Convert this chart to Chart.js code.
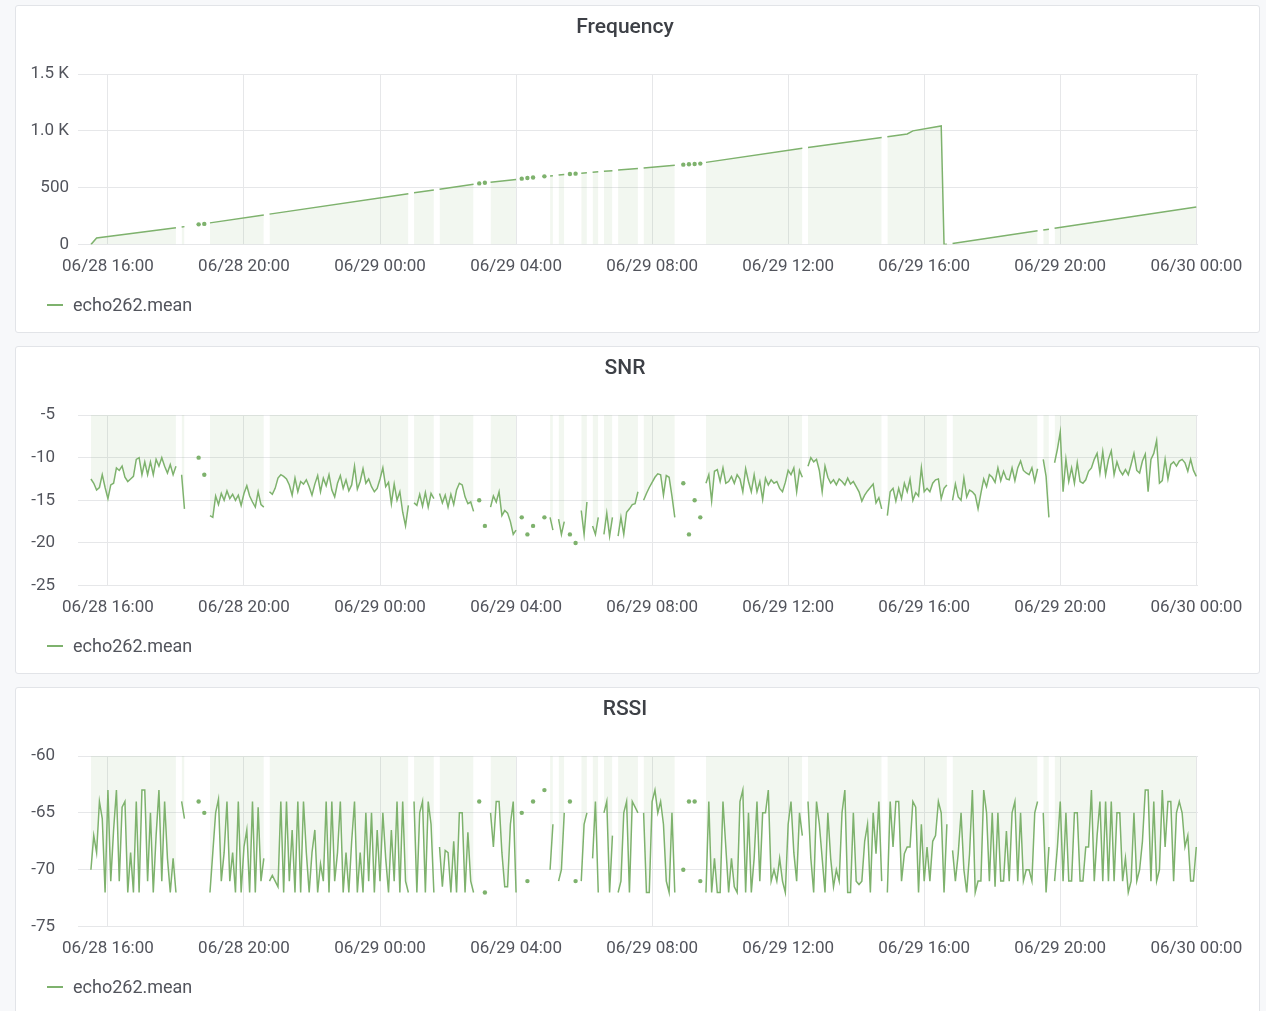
<!DOCTYPE html>
<html>
<head>
<meta charset="utf-8">
<title>echo262</title>
<script src="https://cdn.jsdelivr.net/npm/chart.js@4.4.1/dist/chart.umd.min.js"></script>
<style>
    html, body { margin: 0; padding: 0; width: 1266px; height: 1011px; overflow: hidden; background: #f7f8fa; }
    .panel {
        position: absolute; left: 15px; width: 1245px; height: 328px;
        box-sizing: border-box; background: #fff;
        border: 1px solid #e2e4e8; border-radius: 3px;
    }
    .panel .wrap { position: absolute; left: 0; top: 0; right: 0; bottom: 0; }
    .panel h2 {
        position: absolute; left: 0; top: 8px; width: 1218px; margin: 0;
        text-align: center; font: 500 21px/24px Roboto, sans-serif; color: #3d4046;
        z-index: 2; pointer-events: none;
    }
    .legend {
        position: absolute; left: 31px; top: 288px; height: 22px;
        font: 18px/22px Roboto, sans-serif; color: #52545c; z-index: 2;
    }
    .legend i {
        display: inline-block; width: 16px; height: 2px; background: #7eb26d;
        vertical-align: middle; margin: -2px 10px 0 0;
    }
</style>
</head>
<body>
<div class="panel" style="top:5px"><h2>Frequency</h2><div class="wrap"><canvas id="freqChart"></canvas></div><div class="legend"><i></i><span></span></div></div>
<div class="panel" style="top:346px"><h2>SNR</h2><div class="wrap"><canvas id="snrChart"></canvas></div><div class="legend"><i></i><span></span></div></div>
<div class="panel" style="top:687px"><h2>RSSI</h2><div class="wrap"><canvas id="rssiChart"></canvas></div><div class="legend"><i></i><span></span></div></div>
<script>
// hours counted from 06/28 16:00
const X_TICK_HOURS = [0, 4, 8, 12, 16, 20, 24, 28, 32];
const X_TICK_LABELS = ['06/28 16:00', '06/28 20:00', '06/29 00:00', '06/29 04:00', '06/29 08:00',
    '06/29 12:00', '06/29 16:00', '06/29 20:00', '06/30 00:00'];
const X_MIN = -0.88;
const X_MAX = 32.05;

const SERIES_NAME = 'echo262.mean';

const FREQ_TICKS = [0, 500, 1000, 1500];
const SNR_TICKS = [-25, -20, -15, -10, -5];
const RSSI_TICKS = [-75, -70, -65, -60];

// frequency counter: breakpoints of the ramp, null = no data
const FREQ_HOURS = [
    -0.5, -0.333, 2.0, 2.083, 2.167, 2.25, 2.333, 2.667, 2.75, 2.833, 2.917,
    3.0, 4.583, 4.667, 4.75, 8.833, 8.917, 9.0, 9.583, 9.667, 9.75, 10.75,
    10.833, 10.917, 11.0, 11.083, 11.167, 11.25, 12.0, 12.083, 12.167, 12.25, 12.333,
    12.417, 12.5, 12.583, 12.833, 12.917, 13.0, 13.083, 13.167, 13.25, 13.417, 13.5,
    13.583, 13.667, 13.75, 13.833, 13.917, 14.083, 14.167, 14.25, 14.417, 14.5, 14.583,
    14.833, 14.917, 15.0, 15.583, 15.667, 15.75, 16.667, 16.75, 16.917, 17.0, 17.083,
    17.167, 17.25, 17.333, 17.417, 17.5, 17.583, 20.417, 20.5, 20.583, 22.75, 22.833,
    22.917, 23.5, 23.667, 24.5, 24.583, 24.667, 24.75, 24.833, 27.333, 27.417, 27.5,
    27.667, 27.75, 27.833, 32.0
];
const FREQ_VALUES = [
    0, 58, 148, null, 155, 158, null, 178, null, 182, null,
    191, 260, null, 268, 447, null, 455, 480, null, 487, 531,
    null, 538, null, 544, null, 549, 572, null, 580, null, 585,
    null, 590, null, 600, null, 604, 606, null, 611, 616, null,
    621, null, 624, null, 628, 632, null, 636, 640, null, 644,
    650, null, 655, 669, null, 673, 697, null, 703, null, 706,
    null, 709, null, 712, null, 723, 847, null, 853, 942, null,
    948, 973, 1000, 1043, 0, 2, null, 10, 121, null, 129,
    136, null, 144, 330
];

// SNR and RSSI sampled every 5 minutes from 06/28 15:30
const SAMPLE_START_HOUR = -0.5;
const SAMPLE_STEP_HOURS = 5 / 60;

const SNR_VALUES = [
    -12.5, -13, -13.8, -13.5, -12, -13.5, -14.8, -13.2, -13, -11.2,
    -11.5, -11, -12.3, -12.8, -12.5, -12.2, -10.2, -10, -12, -10.5,
    -12, -10.5, -12, -10.2, -11, -10, -11, -11.8, -10.8, -12,
    -11, null, -12, -16, null, null, null, null, -10, null,
    -12, null, -16.8, -17, -14.5, -15.5, -14.2, -15, -13.9, -14.8,
    -14.3, -15, -14.4, -15.6, -14.2, -13.3, -14.5, -15.2, -15.8, -14,
    -15.5, -15.8, null, -14, -14.3, -13.6, -12.4, -12, -12.2, -12.5,
    -13.2, -14.4, -12.4, -14, -12.8, -13.1, -12.6, -13.4, -14.4, -13.1,
    -12.1, -14, -12.4, -13.3, -12, -13.8, -14.6, -13, -12.1, -13.6,
    -12.6, -13.9, -13.2, -11, -13.7, -12.8, -11.3, -13, -12.5, -13.4,
    -14, -13.6, -12.5, -11.2, -13.4, -12.9, -15.4, -13.1, -15, -14,
    -16.4, -18, -15.6, null, -15.3, -15.6, -14.3, -15.7, -14.1, -15.8,
    -14.2, -14.8, null, -14.2, -15.3, -14.4, -15.8, -14.3, -15.5, -13.8,
    -13, -13.2, -14.6, -15.4, -15.2, -16.3, null, -15, null, -18,
    null, -15.8, -14.5, -15.2, -14, -16.8, -16.2, -16.5, -17.5, -19,
    -18.5, null, -17, null, -19, null, -18, null, null, null,
    -17, null, -17, -18.5, null, -17.2, -19, -17.5, null, -19,
    null, -20, null, -16.2, -19, -15.2, null, -18, -19, -17,
    null, -19, -16.5, -19.2, -17, null, -19.2, -17, -19, -16.4,
    -16, -15.5, -15.4, -14, null, -15, -14.2, -13.5, -12.9, -12.3,
    -11.9, -12, -14.4, -12.1, -12.3, -14.5, -17, null, null, -13,
    null, -19, null, -15, null, -17, null, -13, -12, -15.1,
    -11.6, -11.4, -12.8, -11.2, -13, -12.8, -12.2, -13, -12, -12.5,
    -14, -11.3, -12.8, -14, -12, -14, -12.8, -14.9, -12.4, -13.2,
    -12.6, -13, -12.8, -13.6, -14, -12.9, -11.5, -12, -11.2, -14,
    -11.5, -12.3, null, -11, -10, -10.5, -10.2, -11.5, -14, -11,
    -12.3, -13, -12.6, -13.2, -12.5, -12.8, -13.2, -12.4, -13.1, -12.8,
    -13.4, -14, -15.1, -14.4, -13.9, -13.5, -13.1, -15.3, -14.7, -16,
    null, -16.8, -14, -13.6, -15.1, -13.6, -14.8, -13, -14, -12.5,
    -15, -14.1, -14.5, -11.2, -14, -13.6, -14, -13, -12.6, -12.5,
    -14.8, -13.6, -13.2, null, -15, -13.1, -14.6, -15, -12.4, -14.6,
    -13.8, -14, -14.4, -16, -14.2, -12.5, -13.4, -12, -12.3, -12.9,
    -11.2, -12.7, -11.6, -12.5, -12.6, -11.2, -12.7, -11.2, -10.4, -11.5,
    -11.8, -12, -11.2, -12.8, -11.3, null, -10.2, -12.2, -17, null,
    -10.6, -9, -7, -14, -10.2, -12.8, -11.2, -13, -10.6, -12.8,
    -13, -12.6, -11.6, -11.2, -10.2, -9.5, -11.8, -9.3, -12, -10.2,
    -9.2, -12, -10.5, -11.5, -12, -11.4, -12, -10.8, -9.5, -11.5,
    -11.8, -10.4, -9.6, -14, -10.2, -9.5, -8, -13, -12.7, -10.2,
    -12.5, -10.8, -10.5, -11, -10.4, -10.2, -10.6, -11.6, -10.2, -11.5,
    -12.2
];

const RSSI_VALUES = [
    -70, -67, -68.5, -64, -65.5, -72, -63, -71, -66.5, -63,
    -71, -64.5, -64, -72, -68.5, -72, -64, -72, -63, -63,
    -71, -65, -72, -67, -63, -71, -64, -69, -72, -69,
    -72, null, -64, -65.5, null, null, null, null, -64, null,
    -65, null, -72, -68.5, -65, -63.8, -71, -68.5, -64, -71,
    -68.5, -72, -64, -72, -68, -66.5, -72, -64, -72, -64.5,
    -71, -69, null, -71, -70.5, -71, -71.5, -64, -72, -64,
    -71, -66.5, -72, -64, -72, -64, -68.5, -72, -68.5, -66.5,
    -72, -69.5, -71, -64, -72, -64, -71, -68.5, -64, -72,
    -68.5, -72, -67.5, -64, -72, -68.5, -72, -65, -71, -65,
    -72, -66.5, -71, -65, -69, -72, -66.5, -71, -64, -72,
    -64, -71, -72, null, -64, -72, -65, -64, -72, -64,
    -66, -72, null, -68, -71.5, -68.3, -68.5, -72, -67.5, -72,
    -65, -65, -72, -66.7, -71, -72, null, -64, null, -72,
    null, -65, -68, -64, -64, -68.5, -71.5, -71.5, -66, -64,
    -72, null, -65, null, -71, null, -64, null, null, null,
    -63, null, -70, -66, null, -71, -70, -65, null, -64,
    null, -71, null, -71, -66, -65, null, -69, -64, -72,
    null, -65, -64, -72, -67, null, -72, -71, -65, -64,
    -72, -64, -64.5, -65, null, -65, -72, -72, -64, -63,
    -65, -64, -66, -71, -72, -65, -72, null, null, -70,
    null, -64, null, -64, null, -71, null, -72, -64, -72,
    -69, -72, -72, -64, -68, -72, -69, -71.5, -72, -64,
    -63, -72, -65, -72, -69, -64, -71, -65, -65, -63,
    -71, -70, -71, -69, -71, -72, -66, -64, -68.5, -71,
    -65, -67, null, -64, -69, -72, -64, -66, -69, -72,
    -65, -69, -71.5, -70, -71, -65, -63, -72, -72, -65,
    -71, -71.3, -71, -67.5, -66, -72, -65, -68.6, -64, -71,
    null, -72, -64, -68, -64, -64, -71, -68.6, -68, -68,
    -64, -64.5, -72, -66, -71, -68, -71, -67.5, -67, -64,
    -65, -72, -66, null, -68.3, -71, -68.6, -65, -70, -72,
    -68.6, -63, -72, -71, -71, -63, -65, -71, -65, -71.5,
    -65, -71, -71, -66.6, -71, -65, -64, -71, -65, -71,
    -70, -70, -71, -65, -64, null, -65, -72, -68, null,
    -71, -68, -64, -71, -65, -71, -71, -65, -65, -71,
    -71, -68, -68, -63, -71, -67, -64, -71, -64, -71,
    -64, -71, -65, -65, -71, -69, -72, -71, -65, -71,
    -70, -67.5, -63, -63, -71, -64, -71, -70, -63, -68,
    -64, -64, -71, -65, -64, -65, -68, -67, -71, -71,
    -68
];

const LINE_COLOR = '#7eb26d';
const FILL_COLOR = 'rgba(126, 178, 109, 0.1)';
const GRID_COLOR = '#e6e7e9';
const TEXT_COLOR = '#52545c';
const FONT_FAMILY = 'Roboto, sans-serif';

Chart.defaults.font.family = FONT_FAMILY;
Chart.defaults.animation = false;

function sampled(values) {
    return values.map((v, i) => ({ x: SAMPLE_START_HOUR + i * SAMPLE_STEP_HOURS, y: v }));
}

// show a dot only where a value has no neighbour to connect to
function isIsolated(ctx) {
    const data = ctx.dataset.data;
    const i = ctx.dataIndex;
    const yAt = j => (j < 0 || j >= data.length) ? null : data[j].y;
    return yAt(i) !== null && yAt(i - 1) === null && yAt(i + 1) === null;
}

function formatFreq(v) {
    return v >= 1000 ? (v / 1000).toFixed(1) + ' K' : String(v);
}

function initPanel(id, data, yTicks, formatTick, labelGap) {
    const ctx = document.getElementById(id);
    if (!ctx) return null;

    const legend = ctx.closest('.panel').querySelector('.legend span');
    legend.textContent = SERIES_NAME;

    return new Chart(ctx, {
        type: 'line',
        data: {
            datasets: [{
                label: SERIES_NAME,
                data,
                borderColor: LINE_COLOR,
                backgroundColor: FILL_COLOR,
                borderWidth: 1.5,
                fill: 'origin',
                tension: 0,
                spanGaps: false,
                pointRadius: c => isIsolated(c) ? 2.2 : 0,
                pointBackgroundColor: LINE_COLOR,
                pointBorderWidth: 0,
                pointHoverRadius: 0
            }]
        },
        options: {
            responsive: true,
            maintainAspectRatio: false,
            layout: { padding: { left: 0, right: 61, top: 68, bottom: 43 } },
            plugins: {
                legend: { display: false },
                tooltip: { enabled: false }
            },
            scales: {
                x: {
                    type: 'linear',
                    min: X_MIN,
                    max: X_MAX,
                    afterBuildTicks: axis => { axis.ticks = X_TICK_HOURS.map(v => ({ value: v })); },
                    ticks: {
                        callback: v => X_TICK_LABELS[X_TICK_HOURS.indexOf(v)],
                        color: TEXT_COLOR,
                        font: { size: 17 },
                        padding: 12,
                        maxRotation: 0,
                        autoSkip: false
                    },
                    grid: { color: GRID_COLOR, drawTicks: false },
                    border: { display: false }
                },
                y: {
                    min: yTicks[0],
                    max: yTicks[yTicks.length - 1],
                    afterBuildTicks: axis => { axis.ticks = yTicks.map(v => ({ value: v })); },
                    afterFit: axis => { axis.width = 62; },
                    ticks: {
                        callback: formatTick,
                        color: TEXT_COLOR,
                        font: { size: 17 },
                        padding: labelGap
                    },
                    grid: { color: GRID_COLOR, drawTicks: false },
                    border: { display: false }
                }
            }
        }
    });
}

initPanel('freqChart', FREQ_HOURS.map((h, i) => ({ x: h, y: FREQ_VALUES[i] })), FREQ_TICKS, formatFreq, 9);
initPanel('snrChart', sampled(SNR_VALUES), SNR_TICKS, v => String(v), 23);
initPanel('rssiChart', sampled(RSSI_VALUES), RSSI_TICKS, v => String(v), 23);
</script>
</body>
</html>
